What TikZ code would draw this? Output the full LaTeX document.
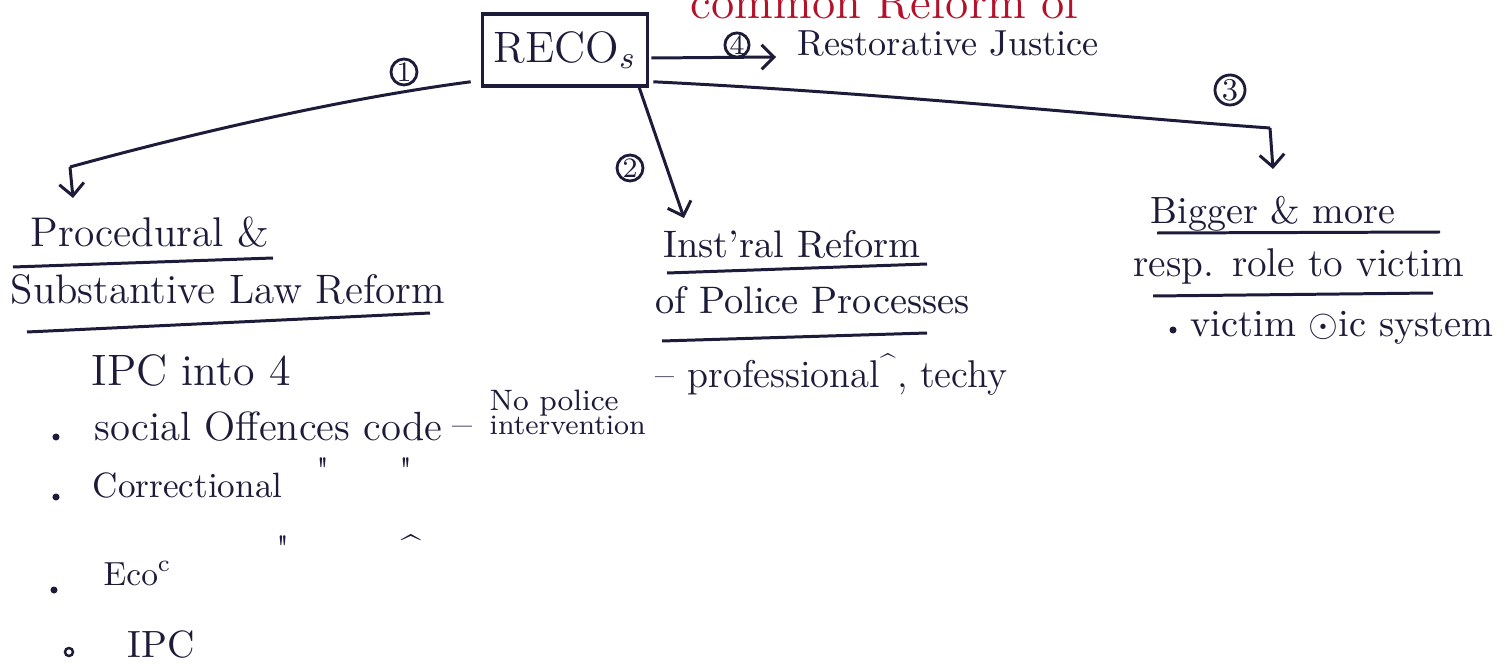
\documentclass[tikz,border=0pt]{standalone}
\usetikzlibrary{arrows.meta,calc}
\definecolor{ink}{HTML}{1C1C3A}
\definecolor{redink}{HTML}{B3122B}
\begin{document}
\begin{tikzpicture}[x=0.01cm,y=-0.01cm,
  txt/.style={anchor=base west, inner sep=0pt, text=ink, font=\fontsize{#1}{#1}\selectfont},
  txt/.default=11.5,
  num/.style={circle, draw=ink, line width=0.8pt, inner sep=0pt, minimum size=0.26cm, text=ink, font=\fontsize{8}{8}\selectfont},
  conn/.style={draw=ink, line width=0.85pt},
  arr/.style={conn, -{Straight Barb[length=3.5pt,width=7pt]}},
  uline/.style={draw=ink, line width=0.85pt},
  dot/.style={circle, fill=ink, inner sep=0pt, minimum size=0.07cm},
  odot/.style={circle, draw=ink, line width=0.7pt, inner sep=0pt, minimum size=0.08cm}]
\useasboundingbox[fill=white] (0,0) rectangle (1509,664);

% red heading (cut off at the top, as in the reference)
\begin{scope}
\clip (0,0) rectangle (1509,664);
\node[txt=13.5, text=redink] (redtxt) at (690,19) {common Reform of};
\end{scope}

% central box
\node[draw=ink, line width=1pt, minimum width=1.65cm, minimum height=0.72cm, text=ink,
      font=\fontsize{12.5}{13}\selectfont, inner sep=0pt] (reco) at (565,50) {RECO$_s$};

% branch 4
\node[txt=10.3] (rj) at (797,56) {Restorative Justice};
\coordinate (e4) at (776,57);
\draw[arr] ($(reco.east)+(2,8)$) -- (e4);
\node[num, minimum size=0.23cm, fill=white] (n4) at (737,45) {4};

% branch 1
\node[txt=11.8] (proc) at (30,247) {Procedural \&};
\node[txt=11.7] (subst) at (10,303) {Substantive Law Reform};
\coordinate (s1) at ($(reco.south west)+(-10,-6)$);
\coordinate (b1) at (70,167);
\coordinate (e1) at (73,198);
\draw[conn] (s1) .. controls (340,99) and (190,134) .. (b1);
\draw[arr] (b1) -- (e1);
\node[num] (n1) at (404,72) {1};
\draw[uline] (13,267) -- (273,258);
\draw[uline] (27,332) -- (430,313);

% branch 2
\node[txt=10.9] (inst) at (663,258) {Inst'ral Reform};
\node[txt=10.9] (police) at (655,313) {of Police Processes};
\node[txt=11] (prof) at (655,387) {-- professional\textsuperscript{\textasciicircum}, techy};
\coordinate (s2) at ($(reco.south east)+(-10,0)$);
\coordinate (e2) at (684,218);
\draw[arr] (s2) -- (e2);
\node[num] (n2) at (630,168) {2};
\draw[uline] (667,273) -- (927,264);
\draw[uline] (662,341) -- (927,333);

% branch 3
\node[txt=10.8] (big) at (1150,223) {Bigger \& more};
\node[txt=11.4] (resp) at (1133,277) {resp. role to victim};
\node[dot] (d3) at (1173,330) {};
\node[txt=10.9] (vic) at (1190,337) {victim $\odot$ic system};
\coordinate (s3) at ($(reco.south east)+(4,-6)$);
\coordinate (b3) at (1270,128);
\coordinate (e3) at (1273,169);
\draw[conn] (s3) .. controls (900,94) and (1100,116) .. (b3);
\draw[arr] (b3) -- (e3);
\node[num, minimum size=0.3cm, font=\fontsize{9}{9}\selectfont] (n3) at (1230,90) {3};
\draw[uline] (1157,233) -- (1440,232);
\draw[uline] (1153,296) -- (1433,293);

% list under branch 1
\node[txt=12.5] (ipc4) at (91,385) {IPC into 4};
\node[dot] (b1a) at (56,437) {};
\node[txt=11.6] (soc) at (94,440) {social Offences code};
\node[txt=11.6] (dash) at (452,437) {--};
\node[txt=8.4] (nop) at (489,410) {No police};
\node[txt=8] (interv) at (489,434) {intervention};
\node[dot] (b1b) at (56,497) {};
\node[txt=10] (corr) at (92,497) {Correctional};
\node[txt=10] (dt1) at (316,482) {\textquotedbl};
\node[txt=10] (dt2) at (399,482) {\textquotedbl};
\node[txt=10] (dt3) at (276,560) {\textquotedbl};
\node[txt=10] (dt4) at (401,560) {\textasciicircum};
\node[dot] (b1c) at (54,590) {};
\node[txt=9.5] (eco) at (103,585) {Eco\textsuperscript{c}};
\node[odot] (b1d) at (69,652) {};
\node[txt=10.8] (ipc) at (127,657) {IPC};
\end{tikzpicture}
\end{document}
